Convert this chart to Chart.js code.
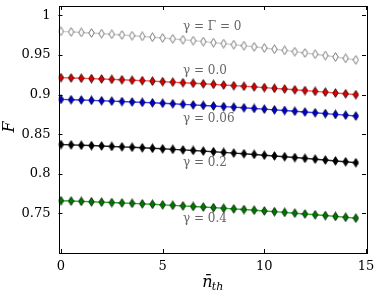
<!DOCTYPE html>
<html>
<head>
<meta charset="utf-8">
<script src="https://cdn.jsdelivr.net/npm/chart.js@4/dist/chart.umd.min.js"></script>
<style>
  html, body { margin: 0; padding: 0; background: #fff; }
  #wrap { width: 381px; height: 299px; }
</style>
</head>
<body>
<div id="wrap"><canvas id="chart"></canvas></div>
<script>
var nth = [0, 0.5, 1, 1.5, 2, 2.5, 3, 3.5, 4, 4.5, 5, 5.5, 6, 6.5, 7, 7.5, 8, 8.5, 9, 9.5, 10, 10.5, 11, 11.5, 12, 12.5, 13, 13.5, 14, 14.5];

var f_gamma0 = [0.9800, 0.9793, 0.9786, 0.9779, 0.9771, 0.9763, 0.9754, 0.9745, 0.9736, 0.9726, 0.9716, 0.9705, 0.9694, 0.9682, 0.9670, 0.9658, 0.9645, 0.9632, 0.9618, 0.9604, 0.9589, 0.9574, 0.9559, 0.9543, 0.9527, 0.9511, 0.9494, 0.9476, 0.9458, 0.9440];
var f_g000 = [0.9215, 0.9211, 0.9207, 0.9203, 0.9198, 0.9193, 0.9188, 0.9182, 0.9177, 0.9171, 0.9164, 0.9158, 0.9151, 0.9144, 0.9137, 0.9130, 0.9122, 0.9114, 0.9106, 0.9098, 0.9089, 0.9080, 0.9071, 0.9062, 0.9052, 0.9042, 0.9032, 0.9021, 0.9011, 0.9000];
var f_g006 = [0.8940, 0.8936, 0.8932, 0.8928, 0.8923, 0.8918, 0.8913, 0.8908, 0.8902, 0.8897, 0.8891, 0.8885, 0.8878, 0.8871, 0.8864, 0.8857, 0.8849, 0.8842, 0.8834, 0.8826, 0.8817, 0.8808, 0.8800, 0.8790, 0.8781, 0.8771, 0.8761, 0.8751, 0.8741, 0.8730];
var f_g02 = [0.8370, 0.8366, 0.8361, 0.8357, 0.8352, 0.8346, 0.8341, 0.8335, 0.8329, 0.8323, 0.8316, 0.8309, 0.8302, 0.8295, 0.8287, 0.8279, 0.8271, 0.8262, 0.8254, 0.8245, 0.8235, 0.8226, 0.8216, 0.8206, 0.8196, 0.8185, 0.8174, 0.8163, 0.8152, 0.8140];
var f_g04 = [0.7660, 0.7656, 0.7652, 0.7647, 0.7642, 0.7637, 0.7632, 0.7627, 0.7621, 0.7615, 0.7608, 0.7602, 0.7595, 0.7588, 0.7581, 0.7573, 0.7565, 0.7557, 0.7549, 0.7540, 0.7531, 0.7522, 0.7513, 0.7503, 0.7493, 0.7483, 0.7473, 0.7462, 0.7451, 0.7440];

var x_ticks = [0, 5, 10, 15];
var y_ticks = [0.75, 0.8, 0.85, 0.9, 0.95, 1];

var labels_text = ["γ = Γ = 0", "γ = 0.0", "γ = 0.06", "γ = 0.2", "γ = 0.4"];
var labels_x = [6.0, 6.0, 6.0, 6.0, 6.0];
var labels_y = [0.9857, 0.930, 0.870, 0.8135, 0.7425];

var SERIF = "'DejaVu Serif', 'Liberation Serif', serif";

// thin diamond marker like matplotlib 'd'
function diamond(fill, edge) {
    var c = document.createElement('canvas');
    c.width = 7; c.height = 10;
    var ctx = c.getContext('2d');
    ctx.beginPath();
    ctx.moveTo(3.5, 0.7);
    ctx.lineTo(6.2, 5);
    ctx.lineTo(3.5, 9.3);
    ctx.lineTo(0.8, 5);
    ctx.closePath();
    ctx.fillStyle = fill;
    ctx.fill();
    ctx.lineWidth = 0.9;
    ctx.strokeStyle = edge;
    ctx.stroke();
    return c;
}

function series(values, line, fill, edge) {
    return {
        data: nth.map(function(x, i) { return {x: x, y: values[i]}; }),
        borderColor: line,
        borderWidth: 1.4,
        pointStyle: diamond(fill, edge),
        pointRadius: 4,
        pointHoverRadius: 4,
        tension: 0,
        fill: false
    };
}

var frame_plugin = {
    id: 'frame',
    afterDraw: function(chart) {
        var ctx = chart.ctx;
        var a = chart.chartArea;
        var xs = chart.scales.x, ys = chart.scales.y;
        ctx.save();
        ctx.strokeStyle = '#000';
        ctx.lineWidth = 1;
        ctx.strokeRect(Math.round(a.left) + 0.5, Math.round(a.top) + 0.5,
                       Math.round(a.right - a.left), Math.round(a.bottom - a.top));
        // inward ticks on all four sides
        ctx.beginPath();
        x_ticks.forEach(function(v) {
            var px = Math.round(xs.getPixelForValue(v)) + 0.5;
            ctx.moveTo(px, a.bottom); ctx.lineTo(px, a.bottom - 4);
            ctx.moveTo(px, a.top); ctx.lineTo(px, a.top + 4);
        });
        y_ticks.forEach(function(v) {
            var py = Math.round(ys.getPixelForValue(v)) + 0.5;
            ctx.moveTo(a.left, py); ctx.lineTo(a.left + 4, py);
            ctx.moveTo(a.right, py); ctx.lineTo(a.right - 4, py);
        });
        ctx.stroke();

        // curve labels
        ctx.fillStyle = '#666';
        ctx.font = '12px ' + SERIF;
        ctx.textBaseline = 'middle';
        ctx.textAlign = 'left';
        labels_text.forEach(function(t, i) {
            ctx.fillText(t, xs.getPixelForValue(labels_x[i]), ys.getPixelForValue(labels_y[i]));
        });

        // axis titles
        ctx.fillStyle = '#000';
        ctx.font = 'italic 16px ' + SERIF;
        ctx.textAlign = 'center';
        ctx.save();
        ctx.translate(10, 127);
        ctx.rotate(-Math.PI / 2);
        ctx.fillText('F', 0, 0);
        ctx.restore();

        var cx = (a.left + a.right) / 2;
        ctx.font = 'italic 16px ' + SERIF;
        ctx.textAlign = 'left';
        ctx.fillText('n\u0304', cx - 10, 283);
        ctx.font = 'italic 11px ' + SERIF;
        ctx.fillText('th', cx - 0.5, 287);
        ctx.restore();
    }
};

new Chart(document.getElementById('chart'), {
    type: 'line',
    data: {
        datasets: [
            series(f_gamma0, '#cccccc', '#ffffff', '#6a6a6a'),
            series(f_g000, '#ff4d4d', '#e00000', '#300000'),
            series(f_g006, '#3a3aff', '#0000d0', '#000030'),
            series(f_g02, '#222222', '#000000', '#000000'),
            series(f_g04, '#2fa52f', '#007a00', '#002000')
        ]
    },
    options: {
        responsive: true,
        maintainAspectRatio: false,
        animation: false,
        layout: { padding: { top: 6, right: 15, left: 0, bottom: 0 } },
        plugins: { legend: { display: false }, tooltip: { enabled: false } },
        scales: {
            x: {
                type: 'linear',
                min: -0.12,
                max: 15,
                border: { display: false },
                grid: { display: false, drawTicks: false },
                afterBuildTicks: function(s) { s.ticks = x_ticks.map(function(v) { return {value: v}; }); },
                afterFit: function(s) { s.height = 46; s.paddingLeft = 0; s.paddingRight = 0; },
                ticks: {
                    color: '#000',
                    padding: 6,
                    maxRotation: 0,
                    font: { family: SERIF, size: 13 },
                    callback: function(v) { return String(v); }
                }
            },
            y: {
                type: 'linear',
                min: 0.7,
                max: 1.012,
                border: { display: false },
                grid: { display: false, drawTicks: false },
                afterBuildTicks: function(s) { s.ticks = y_ticks.map(function(v) { return {value: v}; }); },
                afterFit: function(s) { s.width = 58.5; s.paddingTop = 0; s.paddingBottom = 0; },
                ticks: {
                    color: '#000',
                    padding: 8,
                    font: { family: SERIF, size: 13 },
                    callback: function(v) { return String(Math.round(v * 100) / 100); }
                }
            }
        }
    },
    plugins: [frame_plugin]
});
</script>
</body>
</html>
